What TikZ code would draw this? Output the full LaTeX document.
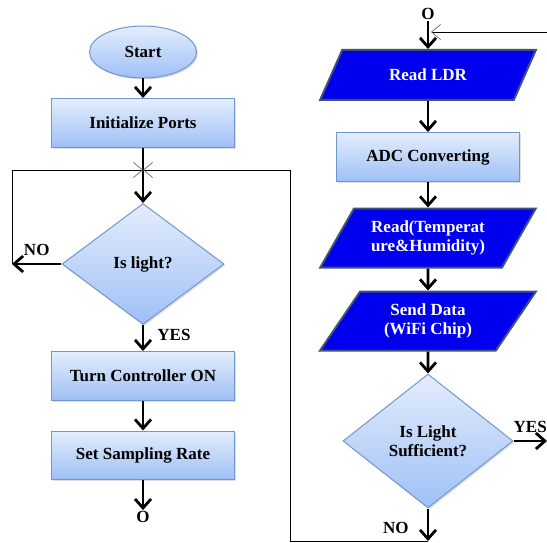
\documentclass[tikz,border=0pt]{standalone}
\usepackage{fontspec}
\setmainfont{Liberation Serif}
\usetikzlibrary{positioning,shapes.geometric,arrows.meta,shadows}
\definecolor{paletop}{RGB}{228,237,252}
\definecolor{palebottom}{RGB}{158,192,246}
\definecolor{paleborder}{RGB}{112,150,208}
\definecolor{deepblue}{RGB}{0,0,238}
\definecolor{deepborder}{RGB}{62,82,118}
\def\thickw{2.8pt}
\def\thinw{0.8pt}

\begin{document}
\begin{tikzpicture}[x=1pt,y=-1pt,
    every node/.style={font=\fontsize{17}{19}\selectfont\bfseries},
    pale/.style={
        draw=paleborder, line width=1pt,
        top color=paletop, bottom color=palebottom,
        drop shadow={opacity=0.25, shadow xshift=1.5pt, shadow yshift=-1.5pt}
      },
    procbox/.style={pale, rectangle, minimum width=183pt, minimum height=49pt},
    decision/.style={pale, diamond, inner sep=0pt, align=center},
    iobox/.style={
        trapezium, trapezium left angle=53, trapezium right angle=127,
        trapezium stretches=true, minimum width=216pt, inner sep=0pt,
        fill=deepblue, draw=deepborder, line width=2pt, text=white, align=center
      },
    flow/.style={line width=\thickw, -{Straight Barb[length=9pt,width=16pt]}},
    loop/.style={line width=\thinw,
        -{Straight Barb[length=9pt,width=15pt,line width=0.7pt,color=black!60]}},
    tag/.style={inner sep=1pt}
  ]
  \useasboundingbox (0,0) rectangle (547,543);

  % left column: setup
  \node[pale, ellipse, minimum width=107pt, minimum height=52pt] (start) at (143,52) {Start};
  \node[procbox] (init) at (143,123) {Initialize Ports};
  \node[decision, minimum width=162pt, minimum height=121pt] (light) at (143,264) {Is light?};
  \node[procbox] (turn) at (143,376) {Turn Controller ON};
  \node[procbox, minimum height=48pt] (rate) at (143,455) {Set Sampling Rate};
  \node[tag] (endL) at (143,517) {O};

  % right column: measuring loop
  \node[tag] (beginR) at (428,14) {O};
  \node[iobox, minimum height=50pt, trapezium left angle=50, trapezium right angle=130] (ldr) at (428,75) {Read LDR};
  \node[procbox] (adc) at (428,157) {ADC Converting};
  \node[iobox, minimum height=59pt] (temp) at (428,238) {Read(Temperat\\ure\&Humidity)};
  \node[iobox, minimum height=59pt] (send) at (428,321) {Send Data\\(WiFi Chip)};
  \node[decision, minimum width=170pt, minimum height=134pt] (suff) at (428,441) {Is Light\\Sufficient?};

  \coordinate (join) at (143,170);
  \coordinate (noL) at (12,264);
  \coordinate (noR) at (428,541);
  \coordinate (wall) at (290,541);
  \coordinate (yesR) at (547,441);
  \coordinate (backR) at (547,32);
  \coordinate (entry) at (431,32);

  \draw[flow] (start) -- (init);
  \draw[flow] (init) -- (light);
  \draw[flow] (light) -- node[tag, above, yshift=6pt]{NO} (noL);
  \draw[loop] (noL) |- (join);
  \draw[flow] (light) -- node[tag, pos=.4, anchor=west, xshift=12pt]{YES} (turn);
  \draw[flow] (turn) -- (rate);
  \draw[flow] (rate) -- (endL);

  \draw[flow] (beginR) -- (ldr);
  \draw[loop] (backR) -- (entry);
  \draw[flow] (ldr) -- (adc);
  \draw[flow] (adc) -- (temp);
  \draw[flow] (temp) -- (send);
  \draw[flow] (send) -- (suff);
  \draw[flow] (suff) -- node[tag, above, yshift=6pt]{YES} (yesR);
  \draw[flow] (suff) -- node[tag, pos=.6, anchor=east, xshift=-17pt]{NO} (noR);
  \draw[loop] (noR) -- (wall) |- (join);

\end{tikzpicture}
\end{document}
